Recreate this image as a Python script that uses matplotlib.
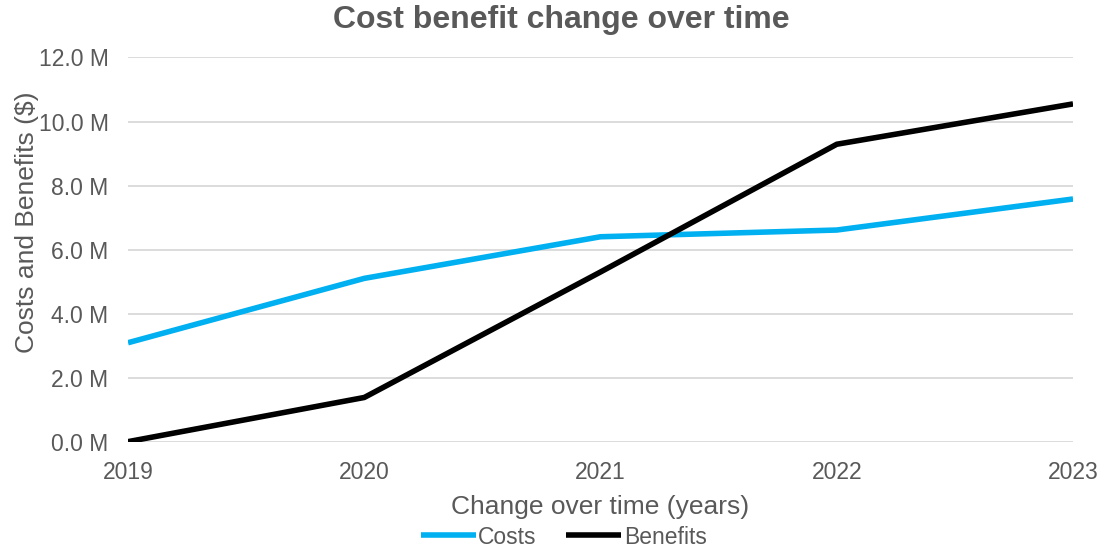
import matplotlib

matplotlib.use("Agg")
import matplotlib.pyplot as plt

years = [2019, 2020, 2021, 2022, 2023]
costs = [3.09, 5.1, 6.4, 6.61, 7.58]       # millions of dollars
benefits = [0.0, 1.38, 5.3, 9.29, 10.55]   # millions of dollars
y_ticks = [0, 2, 4, 6, 8, 10, 12]

TEXT = "#595959"
GRID = "#D9D9D9"

plt.rcParams["font.family"] = ["Liberation Sans", "DejaVu Sans"]

fig = plt.figure(figsize=(11.01, 5.5), dpi=100)
ax = fig.add_axes([0.1163, 0.197, 0.8583, 0.6985])

ax.plot(years, costs, color="#00B0F0", lw=4, label="Costs", solid_capstyle="butt", zorder=3)
ax.plot(years, benefits, color="black", lw=4, label="Benefits", solid_capstyle="butt", zorder=3)

ax.set_xlim(years[0], years[-1])
ax.set_ylim(0, 12)
ax.set_xticks(years)
ax.set_yticks(y_ticks)
ax.set_yticklabels([f"{v:.1f} M" for v in y_ticks])
ax.grid(axis="y", color=GRID, lw=1.3, zorder=0)
for side in ax.spines.values():
    side.set_visible(False)
ax.tick_params(length=0, labelsize=16.5, labelcolor=TEXT)
ax.tick_params(axis="x", pad=14)
ax.tick_params(axis="y", pad=14)

ax.set_xlabel("Change over time (years)", fontsize=19, color=TEXT)
ax.xaxis.set_label_coords(0.5, -0.138)
ax.set_ylabel("Costs and Benefits ($)", fontsize=19, color=TEXT)
ax.yaxis.set_label_coords(-0.094, 0.57)

# title is centred over the whole chart area, slightly right of the axes centre
fig.text(0.51, 1 - 20 / 550, "Cost benefit change over time", fontsize=23,
         fontweight="bold", color=TEXT, ha="center", va="center")

leg = fig.legend(loc="center", bbox_to_anchor=(0.512, 1 - 537 / 550), ncol=2,
                 frameon=False, fontsize=16.5, handlelength=2.4, handletextpad=0.1,
                 columnspacing=1.3)
for t in leg.get_texts():
    t.set_color(TEXT)

fig.savefig("out.png", dpi=100)
